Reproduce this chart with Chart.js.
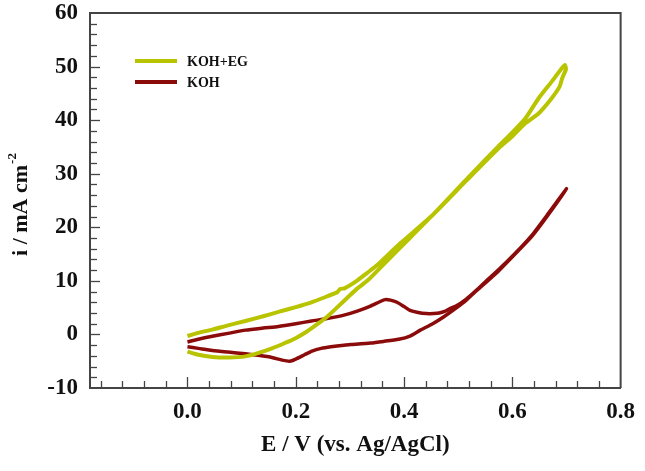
<!DOCTYPE html>
<html>
<head>
<meta charset="utf-8">
<script src="https://cdn.jsdelivr.net/npm/chart.js@4.4.1/dist/chart.umd.min.js"></script>
<style>
    html, body { margin: 0; padding: 0; background: #fff; }
    #wrap { width: 645px; height: 471px; }
</style>
</head>
<body>
<div id="wrap"><canvas id="cv"></canvas></div>
<script>
// KOH+EG loop: forward (lower) branch out to 0.7 V, then back along the upper branch
const egE = [0.000, 0.020, 0.046, 0.077, 0.107, 0.130, 0.156, 0.180, 0.198, 0.220, 0.241, 0.260, 0.277, 0.300, 0.314, 0.332, 0.350, 0.393, 0.453, 0.514, 0.575, 0.600, 0.624, 0.648, 0.672, 0.690, 0.697,
             0.699, 0.692, 0.687, 0.672, 0.648, 0.624, 0.600, 0.575, 0.514, 0.453, 0.393, 0.350, 0.332, 0.314, 0.290, 0.282, 0.277, 0.250, 0.229, 0.200, 0.168, 0.140, 0.107, 0.075, 0.046, 0.020, 0.000];
const egI = [-3.2, -3.8, -4.2, -4.3, -4.1, -3.5, -2.6, -1.6, -0.8, 0.5, 2.0, 3.5, 5.1, 7.3, 8.6, 10.0, 11.8, 16.2, 22.3, 28.8, 35.2, 37.7, 40.3, 44.0, 47.1, 49.5, 50.3,
             49.5, 47.8, 46.2, 44.0, 41.2, 39.4, 37.0, 34.8, 28.6, 22.3, 17.0, 12.9, 11.5, 10.1, 8.6, 8.5, 7.9, 6.8, 6.0, 5.1, 4.2, 3.4, 2.5, 1.7, 0.9, 0.3, -0.3];

// KOH loop: forward (upper) branch with the anodic peak, back along the lower branch
const kohE = [0.000, 0.020, 0.046, 0.075, 0.107, 0.140, 0.168, 0.200, 0.229, 0.260, 0.289, 0.315, 0.338, 0.355, 0.365, 0.375, 0.387, 0.400, 0.411, 0.426, 0.441, 0.455, 0.465, 0.475, 0.484, 0.496, 0.515, 0.532, 0.550, 0.575, 0.605, 0.636, 0.666, 0.700,
              0.666, 0.636, 0.605, 0.575, 0.550, 0.532, 0.515, 0.496, 0.475, 0.453, 0.430, 0.411, 0.390, 0.362, 0.338, 0.301, 0.289, 0.265, 0.247, 0.230, 0.216, 0.200, 0.189, 0.175, 0.156, 0.130, 0.107, 0.075, 0.046, 0.020, 0.000];
const kohI = [-1.4, -0.9, -0.35, 0.2, 0.8, 1.2, 1.5, 2.0, 2.5, 3.0, 3.6, 4.4, 5.3, 6.1, 6.5, 6.4, 6.0, 5.2, 4.5, 4.1, 3.9, 3.9, 4.0, 4.3, 4.8, 5.3, 6.6, 8.1, 9.8, 12.1, 15.1, 18.5, 22.5, 27.2,
              22.3, 18.3, 15.0, 11.9, 9.6, 8.0, 6.4, 4.9, 3.4, 2.0, 0.8, -0.3, -0.9, -1.3, -1.6, -1.9, -2.0, -2.3, -2.6, -3.1, -3.8, -4.6, -5.0, -4.8, -4.3, -3.9, -3.6, -3.3, -3.0, -2.6, -2.3];

const seriesNames = ['KOH+EG', 'KOH'];
const xTickValues = [0.0, 0.2, 0.4, 0.6, 0.8];
const yTickValues = [-10, 0, 10, 20, 30, 40, 50, 60];

const FONT = 'Liberation Serif, Times New Roman, serif';
const AXIS = '#444';

function toPoints(xs, ys) {
    return xs.map((x, i) => ({ x: x, y: ys[i] }));
}

// inward tick marks, top/right frame, legend and y title
const framePlugin = {
    id: 'frame',
    afterDraw(chart) {
        const ctx = chart.ctx;
        const a = chart.chartArea;
        const xs = chart.scales.x;
        const ys = chart.scales.y;
        ctx.save();
        ctx.strokeStyle = AXIS;
        ctx.lineWidth = 1.3;
        for (let k = -4; k < 20; k++) {
            const px = Math.round(xs.getPixelForValue(k * 0.04)) + 0.5;
            const len = k % 5 === 0 ? 11 : 7;
            ctx.beginPath();
            ctx.moveTo(px, a.bottom);
            ctx.lineTo(px, a.bottom - len);
            ctx.stroke();
        }
        for (let v = -8; v < 60; v += 2) {
            const py = Math.round(ys.getPixelForValue(v)) + 0.5;
            const len = v % 10 === 0 ? 10 : 7;
            ctx.beginPath();
            ctx.moveTo(a.left, py);
            ctx.lineTo(a.left + len, py);
            ctx.stroke();
        }
        ctx.lineWidth = 2;
        ctx.beginPath();
        ctx.moveTo(a.left, a.top);
        ctx.lineTo(a.right, a.top);
        ctx.lineTo(a.right, a.bottom);
        ctx.stroke();

        // legend
        ctx.font = 'bold 14px ' + FONT;
        ctx.textBaseline = 'middle';
        ctx.fillStyle = '#111';
        chart.data.datasets.forEach((ds, i) => {
            const y = 61 + i * 21;
            ctx.strokeStyle = ds.borderColor;
            ctx.lineWidth = 4;
            ctx.beginPath();
            ctx.moveTo(135, y);
            ctx.lineTo(177, y);
            ctx.stroke();
            ctx.fillText(ds.label, 187, y + 1);
        });

        // y title with superscript
        ctx.translate(19, 205);
        ctx.rotate(-Math.PI / 2);
        ctx.font = 'bold 22px ' + FONT;
        const main = 'i / mA cm';
        const wMain = ctx.measureText(main).width;
        ctx.font = 'bold 13px ' + FONT;
        const wSup = ctx.measureText('-2').width;
        const x0 = -(wMain + wSup) / 2;
        ctx.textAlign = 'left';
        ctx.textBaseline = 'alphabetic';
        ctx.font = 'bold 22px ' + FONT;
        ctx.fillText(main, x0, 8);
        ctx.font = 'bold 13px ' + FONT;
        ctx.fillText('-2', x0 + wMain + 1, -3);
        ctx.restore();
    }
};

new Chart(document.getElementById('cv'), {
    type: 'scatter',
    data: {
        datasets: [{
            label: seriesNames[0],
            data: toPoints(egE, egI),
            showLine: true,
            borderColor: '#b8c400',
            borderWidth: 4,
            pointRadius: 0,
            tension: 0.2
        }, {
            label: seriesNames[1],
            data: toPoints(kohE, kohI),
            showLine: true,
            borderColor: '#8b0a0a',
            borderWidth: 3.5,
            pointRadius: 0,
            tension: 0.2
        }]
    },
    options: {
        responsive: true,
        maintainAspectRatio: false,
        animation: false,
        layout: { padding: { left: 0, right: 17, top: 0, bottom: 0 } },
        plugins: {
            legend: { display: false },
            tooltip: { enabled: false }
        },
        scales: {
            x: {
                type: 'linear',
                min: -0.18,
                max: 0.8,
                afterBuildTicks: (s) => { s.ticks = xTickValues.map(v => ({ value: v })); },
                afterFit: (s) => { s.height = 83; },
                grid: { display: false, drawTicks: false },
                border: { display: true, color: AXIS, width: 2 },
                ticks: {
                    padding: 10,
                    maxRotation: 0,
                    color: '#111',
                    font: { family: FONT, size: 23, weight: 'bold' },
                    callback: (v) => v.toFixed(1)
                },
                title: {
                    display: true,
                    text: 'E / V (vs. Ag/AgCl)',
                    color: '#111',
                    font: { family: FONT, size: 23, weight: 'bold' },
                    padding: { top: 0, bottom: 12 }
                }
            },
            y: {
                type: 'linear',
                min: -10,
                max: 60,
                afterBuildTicks: (s) => { s.ticks = yTickValues.map(v => ({ value: v })); },
                afterFit: (s) => { s.width = 90; s.paddingTop = 13; s.paddingBottom = 0; },
                grid: { display: false, drawTicks: false },
                border: { display: true, color: AXIS, width: 2 },
                ticks: {
                    padding: 12,
                    color: '#111',
                    font: { family: FONT, size: 23, weight: 'bold' }
                }
            }
        }
    },
    plugins: [framePlugin]
});
</script>
</body>
</html>
